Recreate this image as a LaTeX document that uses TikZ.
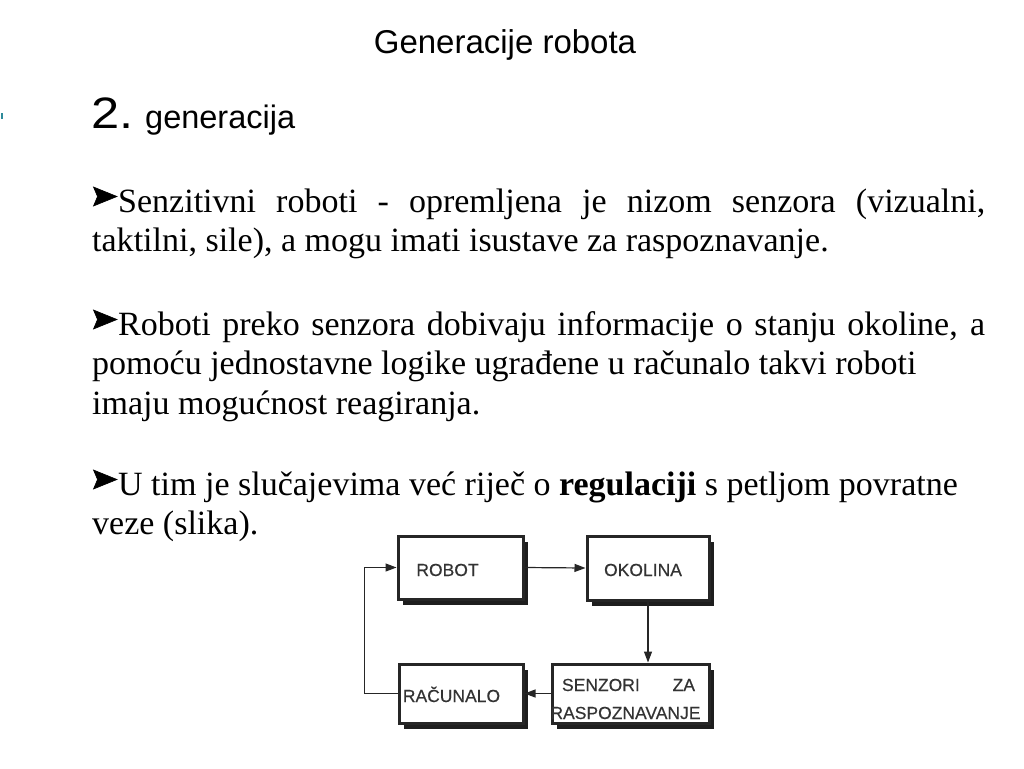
\documentclass[tikz,border=0pt]{standalone}
\usepackage{graphicx}
\usepackage{fontspec}
\setmainfont{Liberation Serif}
\newfontfamily\titlefont{Liberation Sans}
\newfontfamily\diagfont[FakeBold=0.4]{Liberation Sans}
\usetikzlibrary{arrows.meta,shadows}
\definecolor{boxline}{HTML}{262626}
\definecolor{shadec}{HTML}{1E1E1E}
\definecolor{dtext}{HTML}{333333}
\definecolor{markc}{HTML}{2E8B9A}
\tikzset{
  blk/.style={draw=boxline, line width=3pt, fill=white, inner sep=0pt,
    drop shadow={shadow xshift=5pt, shadow yshift=-6pt, fill=shadec, opacity=1}},
  lbl/.style={anchor=base, inner sep=0pt, text=dtext, font=\diagfont\fontsize{17.5}{20}\selectfont},
  conn/.style={draw=boxline, line width=1.2pt, -{Triangle[length=11pt,width=8pt]}},
  body/.style={anchor=base west, inner sep=0pt, font=\fontsize{34}{39.5}\selectfont},
  bulshape/.style={fill=black, draw=black, line width=0.6pt, line join=miter},
}
\newcommand{\bulgap}{\hspace*{26pt}}
\newcommand{\jline}[1]{\makebox[893pt][s]{#1}}
\newcommand{\drawbul}[1]{%
  \filldraw[bulshape] ([shift={(1.5,-25)}]#1.base west) -- ([shift={(25,-15.5)}]#1.base west)
    -- ([shift={(1.5,-6)}]#1.base west) -- ([shift={(5.5,-15.5)}]#1.base west) -- cycle;}
\begin{document}
\begin{tikzpicture}[x=1pt,y=-1pt]
\useasboundingbox[fill=white] (0,0) rectangle (1024,768);
% small mark at the left edge
\fill[markc] (1,113) rectangle (3,119);
% headings
\node[anchor=base, inner sep=0pt, font=\titlefont\fontsize{33}{36}\selectfont] (title) at (505,54) {Generacije robota};
\node[anchor=base west, inner sep=0pt, font=\titlefont\fontsize{44}{46}\selectfont] (num) at (91,128) {\scalebox{1.15}[1]{2.}};
\node[anchor=base west, inner sep=0pt, font=\titlefont\fontsize{32.5}{34}\selectfont] (gen) at (145,128) {generacija};
% body text
\node[body] (l1) at (92,212) {\jline{\bulgap Senzitivni roboti - opremljena je nizom senzora (vizualni,}};
\node[body] (l2) at (92,251) {taktilni, sile), a mogu imati isustave za raspoznavanje.};
\node[body] (l3) at (92,335) {\jline{\bulgap Roboti preko senzora dobivaju informacije o stanju okoline, a}};
\node[body] (l4) at (92,374.5) {pomoću jednostavne logike ugrađene u računalo takvi roboti};
\node[body] (l5) at (92,414) {imaju mogućnost reagiranja.};
\node[body] (l6) at (92,495) {\bulgap U tim je slučajevima već riječ o \textbf{regulaciji} s petljom povratne};
\node[body] (l7) at (92,534.5) {veze (slika).};
% bullets
\drawbul{l1}
\drawbul{l3}
\drawbul{l6}
% diagram boxes
\node[blk, minimum width=125pt, minimum height=63pt] (robot) at (460.5,567.5) {};
\node[blk, minimum width=122pt, minimum height=64pt] (okolina) at (648,568) {};
\node[blk, minimum width=157pt, minimum height=59pt] (senz) at (630.5,693.5) {};
\node[blk, minimum width=124pt, minimum height=59pt] (racun) at (461,693.5) {};
% diagram labels
\node[lbl] (trobot) at (447.5,576) {ROBOT};
\node[lbl] (tokolina) at (643,576) {OKOLINA};
\node[lbl] (tracun) at (451.5,702) {RAČUNALO};
\node[lbl] (tsenz) at (628.5,691) {\makebox[133pt][s]{SENZORI ZA}};
\node[lbl] (trasp) at (625.5,719) {RASPOZNAVANJE};
% connectors
\draw[conn] (robot.east) -- (okolina.west);
\draw[conn] (okolina.south) -- (okolina.south |- senz.north);
\draw[conn] (senz.west) -- (racun.east);
\draw[conn] (racun.west) -- ++(-33,0) |- (robot.west);
\end{tikzpicture}
\end{document}
